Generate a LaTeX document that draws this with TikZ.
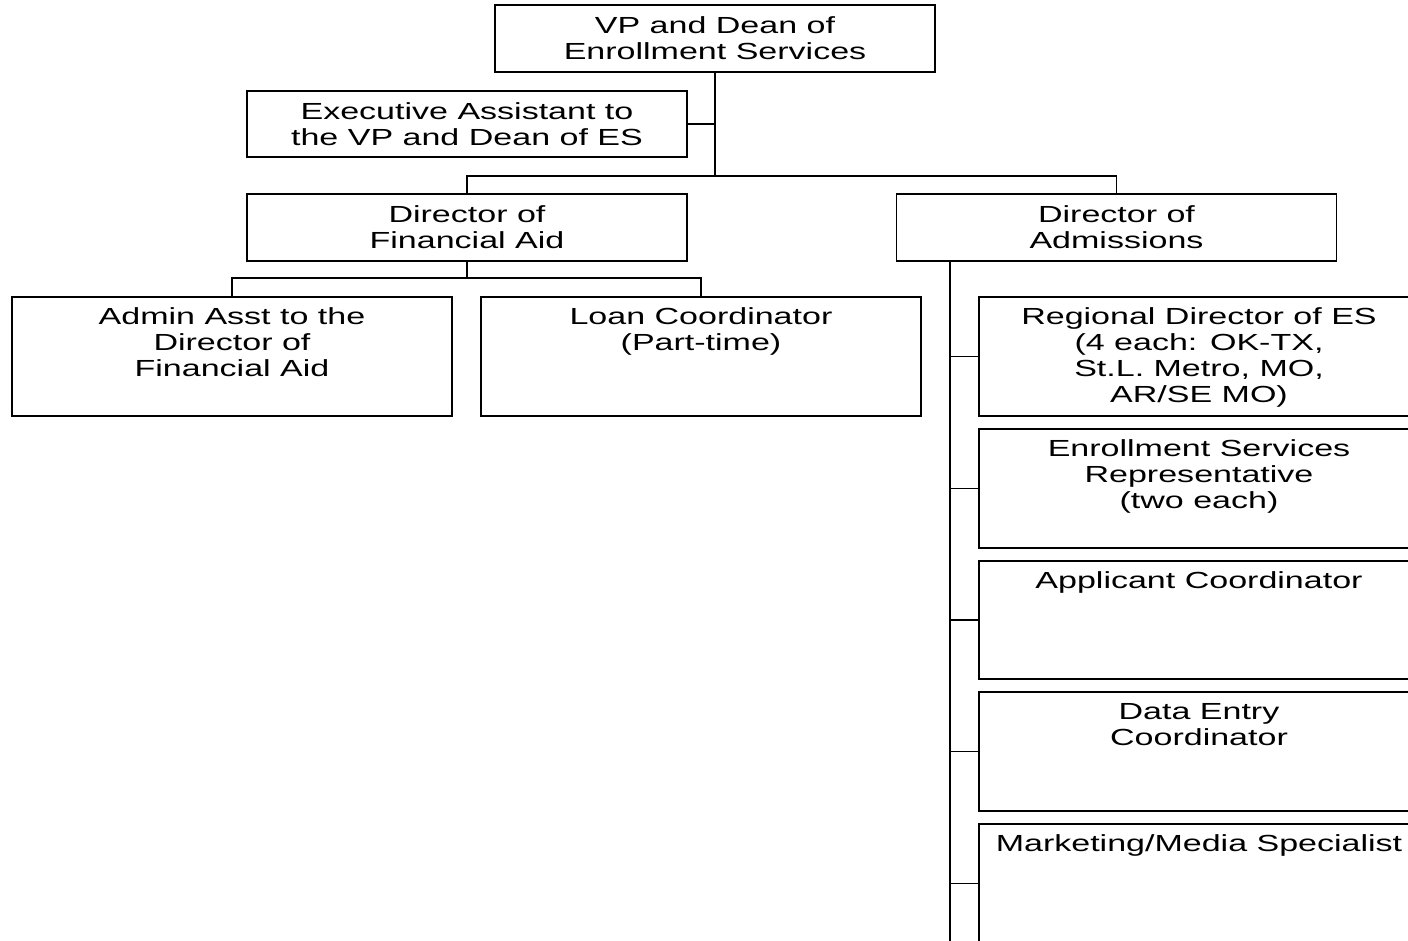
\documentclass[tikz,border=0pt]{standalone}
\usepackage{fontspec}
\setmainfont{Liberation Sans}[FakeStretch=1.46]
\begin{document}
\begin{tikzpicture}[x=1pt,y=-1pt,
  line width=1.8pt,
  every node/.style={font=\fontsize{23.3}{26}\selectfont},
  box/.style={draw, minimum width=440pt, inner sep=0pt, align=center},
  shortbox/.style={box, minimum height=67pt},
  tallbox/.style={box, minimum height=119pt},
  txt/.style={inner sep=0pt, anchor=north, align=center}]
\clip (0,0) rectangle (1408,940);
\useasboundingbox (0,0) rectangle (1408,940);
% top level
\node[shortbox] (vp) at (715,38.5) {VP and Dean of\\Enrollment Services};
\node[shortbox, minimum height=66pt] (ea) at (467,124) {Executive Assistant to\\the VP and Dean of ES};
\node[shortbox] (fa) at (467,227.5) {Director of\\Financial Aid};
\node[shortbox] (adm) at (1116.5,227.5) {Director of\\Admissions};
% financial aid staff
\node[tallbox] (aa) at (232,356.5) {};
\node[txt] (aat) at ([yshift=-11pt]aa.north) {Admin Asst to the\\Director of\\Financial Aid};
\node[tallbox] (lc) at (701,356.5) {};
\node[txt] (lct) at ([yshift=-11pt]lc.north) {Loan Coordinator\\(Part-time)};
% admissions staff
\node[tallbox] (r1) at (1199,356.5) {};
\node[txt] (r1t) at ([yshift=-11pt]r1.north) {Regional Director of ES\\(4 each: OK-TX,\\St.L. Metro, MO,\\AR/SE MO)};
\node[tallbox] (r2) at (1199,488.5) {};
\node[txt] (r2t) at ([yshift=-11pt]r2.north) {Enrollment Services\\Representative\\(two each)};
\node[tallbox, minimum height=118pt] (r3) at (1199,620) {};
\node[txt] (r3t) at ([yshift=-11pt]r3.north) {Applicant Coordinator};
\node[tallbox] (r4) at (1199,751.5) {};
\node[txt] (r4t) at ([yshift=-11pt]r4.north) {Data Entry\\Coordinator};
\node[tallbox] (r5) at (1199,883.5) {};
\node[txt] (r5t) at ([yshift=-11pt]r5.north) {Marketing/Media Specialist};
% connectors
\coordinate (b1) at (715,176);
\coordinate (b2) at (467,278);
\coordinate (sp) at (950,261);
\coordinate (se) at (950,950);
\draw (vp.south) -- (b1);
\draw (ea.east) -- (ea.east -| vp.south);
\draw (fa.north) |- (b1) -| (adm.north);
\draw (fa.south) -- (b2);
\draw (aa.north) |- (b2) -| (lc.north);
\draw (sp) -- (se);
\draw (r1.west) -- (r1.west -| sp);
\draw (r2.west) -- (r2.west -| sp);
\draw (r3.west) -- (r3.west -| sp);
\draw (r4.west) -- (r4.west -| sp);
\draw (r5.west) -- (r5.west -| sp);
\end{tikzpicture}
\end{document}
